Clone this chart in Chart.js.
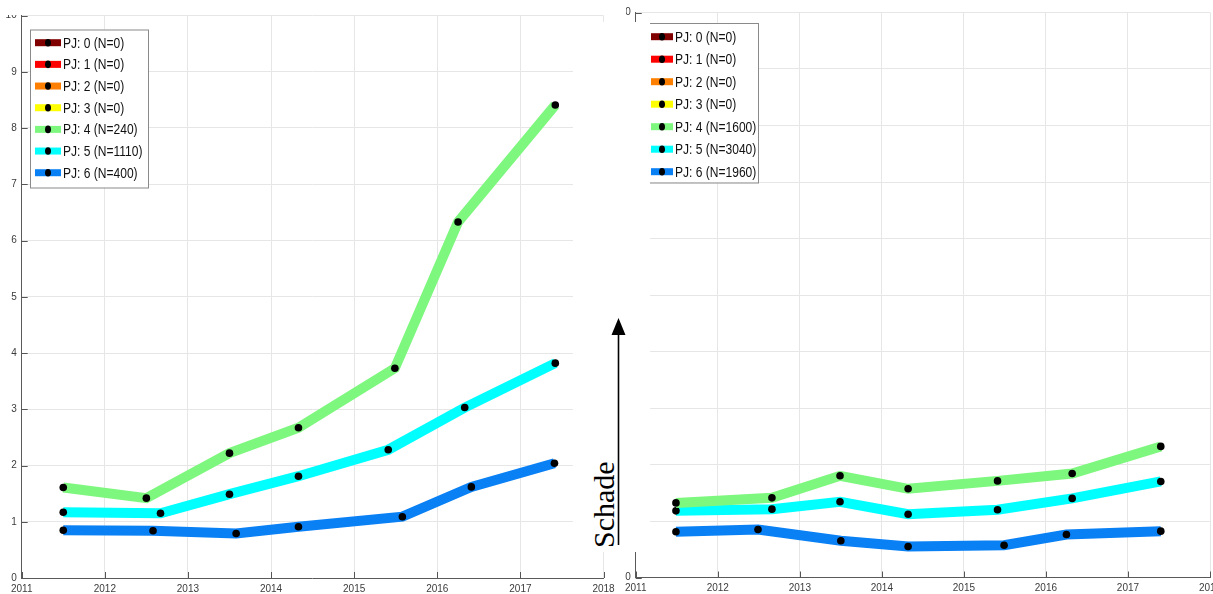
<!DOCTYPE html>
<html>
<head>
<meta charset="utf-8">
<script src="https://cdn.jsdelivr.net/npm/chart.js@4.4.0/dist/chart.umd.min.js"></script>
<style>
  html, body { margin: 0; padding: 0; background: #fff; width: 1213px; height: 594px; overflow: hidden; }
  #wrap { position: relative; width: 1213px; height: 594px; overflow: hidden; }
  canvas { position: absolute; top: 0; }
  #leftChart { left: 0; }
  #rightChart { left: 620px; }
  .mask { position: absolute; background: #fff; }
  #schade { position: absolute; left: 0; top: 0; }
</style>
</head>
<body>
<div id="wrap">
  <canvas id="leftChart" width="620" height="594"></canvas>
  <canvas id="rightChart" width="610" height="594"></canvas>
  <div class="mask" style="left:0;top:0;width:20px;height:15px;"></div>
  <div class="mask" style="left:612px;top:0;width:14px;height:22px;"></div>
  <div class="mask" style="left:573px;top:22px;width:77px;height:530px;"></div>
  <svg id="schade" width="1213" height="594">
    <line x1="618.5" y1="545" x2="618.5" y2="332" stroke="#000" stroke-width="1.6"/>
    <polygon points="618.5,318 611.5,335 625.5,335" fill="#000"/>
    <text x="613.5" y="548" transform="rotate(-90 613.5 548)" font-family="'Liberation Serif', 'Times New Roman', serif" font-size="30" fill="#000">Schade</text>
  </svg>
</div>
<script>
const pjLabels = ['PJ: 0', 'PJ: 1', 'PJ: 2', 'PJ: 3', 'PJ: 4', 'PJ: 5', 'PJ: 6'];
const pjColors = ['#800000', '#ff0000', '#ff8000', '#ffff00', '#7ef77e', '#00ffff', '#0a80f5'];
const xTicks = [2011, 2012, 2013, 2014, 2015, 2016, 2017, 2018];
const yTicks = [0, 1, 2, 3, 4, 5, 6, 7, 8, 9, 10];

// left panel
const nLeft = [0, 0, 0, 0, 240, 1110, 400];
const yearsLeftPJ4 = [2011.50, 2012.50, 2013.50, 2014.33, 2015.49, 2016.25, 2017.42];
const valsLeftPJ4 = [1.61, 1.42, 2.22, 2.67, 3.73, 6.33, 8.41];
const yearsLeftPJ5 = [2011.50, 2012.67, 2013.50, 2014.33, 2015.41, 2016.33, 2017.42];
const valsLeftPJ5 = [1.17, 1.15, 1.49, 1.81, 2.28, 3.03, 3.82];
const yearsLeftPJ6 = [2011.50, 2012.58, 2013.58, 2014.33, 2015.58, 2016.41, 2017.41];
const valsLeftPJ6 = [0.85, 0.84, 0.79, 0.91, 1.09, 1.62, 2.04];

// right panel
const nRight = [0, 0, 0, 0, 1600, 3040, 1960];
const yearsRightPJ4 = [2011.49, 2012.66, 2013.49, 2014.32, 2015.41, 2016.32, 2017.40];
const valsRightPJ4 = [1.32, 1.41, 1.80, 1.57, 1.71, 1.84, 2.32];
const yearsRightPJ5 = [2011.49, 2012.66, 2013.49, 2014.32, 2015.41, 2016.32, 2017.40];
const valsRightPJ5 = [1.18, 1.21, 1.34, 1.12, 1.20, 1.40, 1.70];
const yearsRightPJ6 = [2011.49, 2012.49, 2013.50, 2014.32, 2015.49, 2016.25, 2017.40];
const valsRightPJ6 = [0.81, 0.85, 0.65, 0.55, 0.57, 0.76, 0.82];

function toPoints(years, vals) {
  return years.map((x, i) => ({ x, y: vals[i] }));
}

// MATLAB style ticks pointing into the axes
const innerTicks = {
  id: 'innerTicks',
  beforeDatasetsDraw(chart) {
    const { ctx, chartArea, scales } = chart;
    ctx.save();
    ctx.strokeStyle = '#555';
    ctx.lineWidth = 1;
    ctx.beginPath();
    scales.x.ticks.forEach((t, i) => {
      const px = Math.round(scales.x.getPixelForTick(i)) + 0.5;
      ctx.moveTo(px, chartArea.bottom);
      ctx.lineTo(px, chartArea.bottom - 6);
    });
    scales.y.ticks.forEach((t, i) => {
      const py = Math.round(scales.y.getPixelForTick(i)) + 0.5;
      ctx.moveTo(chartArea.left, py);
      ctx.lineTo(chartArea.left + 6, py);
    });
    ctx.stroke();
    ctx.restore();
  }
};

const boxLegend = {
  id: 'boxLegend',
  afterDatasetsDraw(chart, args, opts) {
    const { ctx } = chart;
    const sets = chart.data.datasets;
    ctx.save();
    ctx.fillStyle = '#fff';
    ctx.fillRect(opts.x, opts.y, opts.w, opts.h);
    ctx.strokeStyle = '#8a8a8a';
    ctx.lineWidth = 1;
    ctx.strokeRect(opts.x + 0.5, opts.y + 0.5, opts.w, opts.h);
    sets.forEach((ds, i) => {
      const cy = opts.firstRow + i * opts.rowH;
      ctx.fillStyle = ds.borderColor;
      ctx.fillRect(opts.swatchX, cy - 3.5, opts.swatchW, 7);
      ctx.fillStyle = '#000';
      ctx.beginPath();
      ctx.ellipse(opts.swatchX + opts.swatchW / 2, cy, 3, 3.8, 0, 0, Math.PI * 2);
      ctx.fill();
      ctx.save();
      ctx.translate(opts.textX, cy);
      ctx.scale(0.86, 1);
      ctx.fillStyle = '#111';
      ctx.font = '14px "Liberation Sans", Arial, sans-serif';
      ctx.textBaseline = 'middle';
      ctx.fillText(ds.label, 0, 1);
      ctx.restore();
    });
    ctx.restore();
  }
};

function makeDatasets(nList, series) {
  return pjLabels.map((lbl, i) => ({
    label: `${lbl} (N=${nList[i]})`,
    data: series[i] || [],
    borderColor: pjColors[i],
    backgroundColor: pjColors[i],
    borderWidth: 10,
    borderJoinStyle: 'miter',
    pointRadius: 3.8,
    pointBackgroundColor: '#000',
    pointBorderWidth: 0,
    tension: 0,
    fill: false
  }));
}

function makeChart(canvasId, datasets, layout, legend) {
  const tickFont = { family: '"Liberation Sans", Arial, sans-serif', size: 10 };
  return new Chart(document.getElementById(canvasId), {
    type: 'line',
    data: { datasets },
    options: {
      responsive: false,
      animation: false,
      events: [],
      layout: { padding: { top: layout.top, right: layout.right, left: 0, bottom: 0 } },
      plugins: {
        legend: { display: false },
        tooltip: { enabled: false },
        boxLegend: legend
      },
      scales: {
        x: {
          type: 'linear',
          min: xTicks[0],
          max: xTicks[xTicks.length - 1],
          afterBuildTicks: (scale) => { scale.ticks = xTicks.map(v => ({ value: v })); },
          afterFit: (scale) => { scale.height = layout.xHeight; },
          ticks: { color: '#3c3c3c', font: tickFont, padding: 5, maxRotation: 0, autoSkip: false, callback: v => String(v) },
          grid: { color: '#e6e6e6', drawTicks: false },
          border: { color: '#5a5a5a', width: 1 }
        },
        y: {
          type: 'linear',
          min: yTicks[0],
          max: yTicks[yTicks.length - 1],
          afterBuildTicks: (scale) => { scale.ticks = yTicks.map(v => ({ value: v })); },
          afterFit: (scale) => { scale.width = layout.yWidth; },
          ticks: { color: '#3c3c3c', font: tickFont, padding: 5, callback: v => String(v) },
          grid: { color: '#e6e6e6', drawTicks: false },
          border: { color: '#5a5a5a', width: 1 }
        }
      }
    },
    plugins: [innerTicks, boxLegend]
  });
}

makeChart('leftChart',
  makeDatasets(nLeft, [null, null, null, null,
    toPoints(yearsLeftPJ4, valsLeftPJ4),
    toPoints(yearsLeftPJ5, valsLeftPJ5),
    toPoints(yearsLeftPJ6, valsLeftPJ6)]),
  { top: 15.5, right: 16.5, xHeight: 16, yWidth: 21.7 },
  { x: 30, y: 29.5, w: 118, h: 158, swatchX: 35, swatchW: 26, textX: 63, firstRow: 42.7, rowH: 21.67 });

makeChart('rightChart',
  makeDatasets(nRight, [null, null, null, null,
    toPoints(yearsRightPJ4, valsRightPJ4),
    toPoints(yearsRightPJ5, valsRightPJ5),
    toPoints(yearsRightPJ6, valsRightPJ6)]),
  { top: 12.5, right: 20, xHeight: 16.5, yWidth: 11 },
  { x: 26, y: 23, w: 112, h: 159.5, swatchX: 31, swatchW: 22, textX: 55, firstRow: 36.7, rowH: 22.5 });
</script>
</body>
</html>
